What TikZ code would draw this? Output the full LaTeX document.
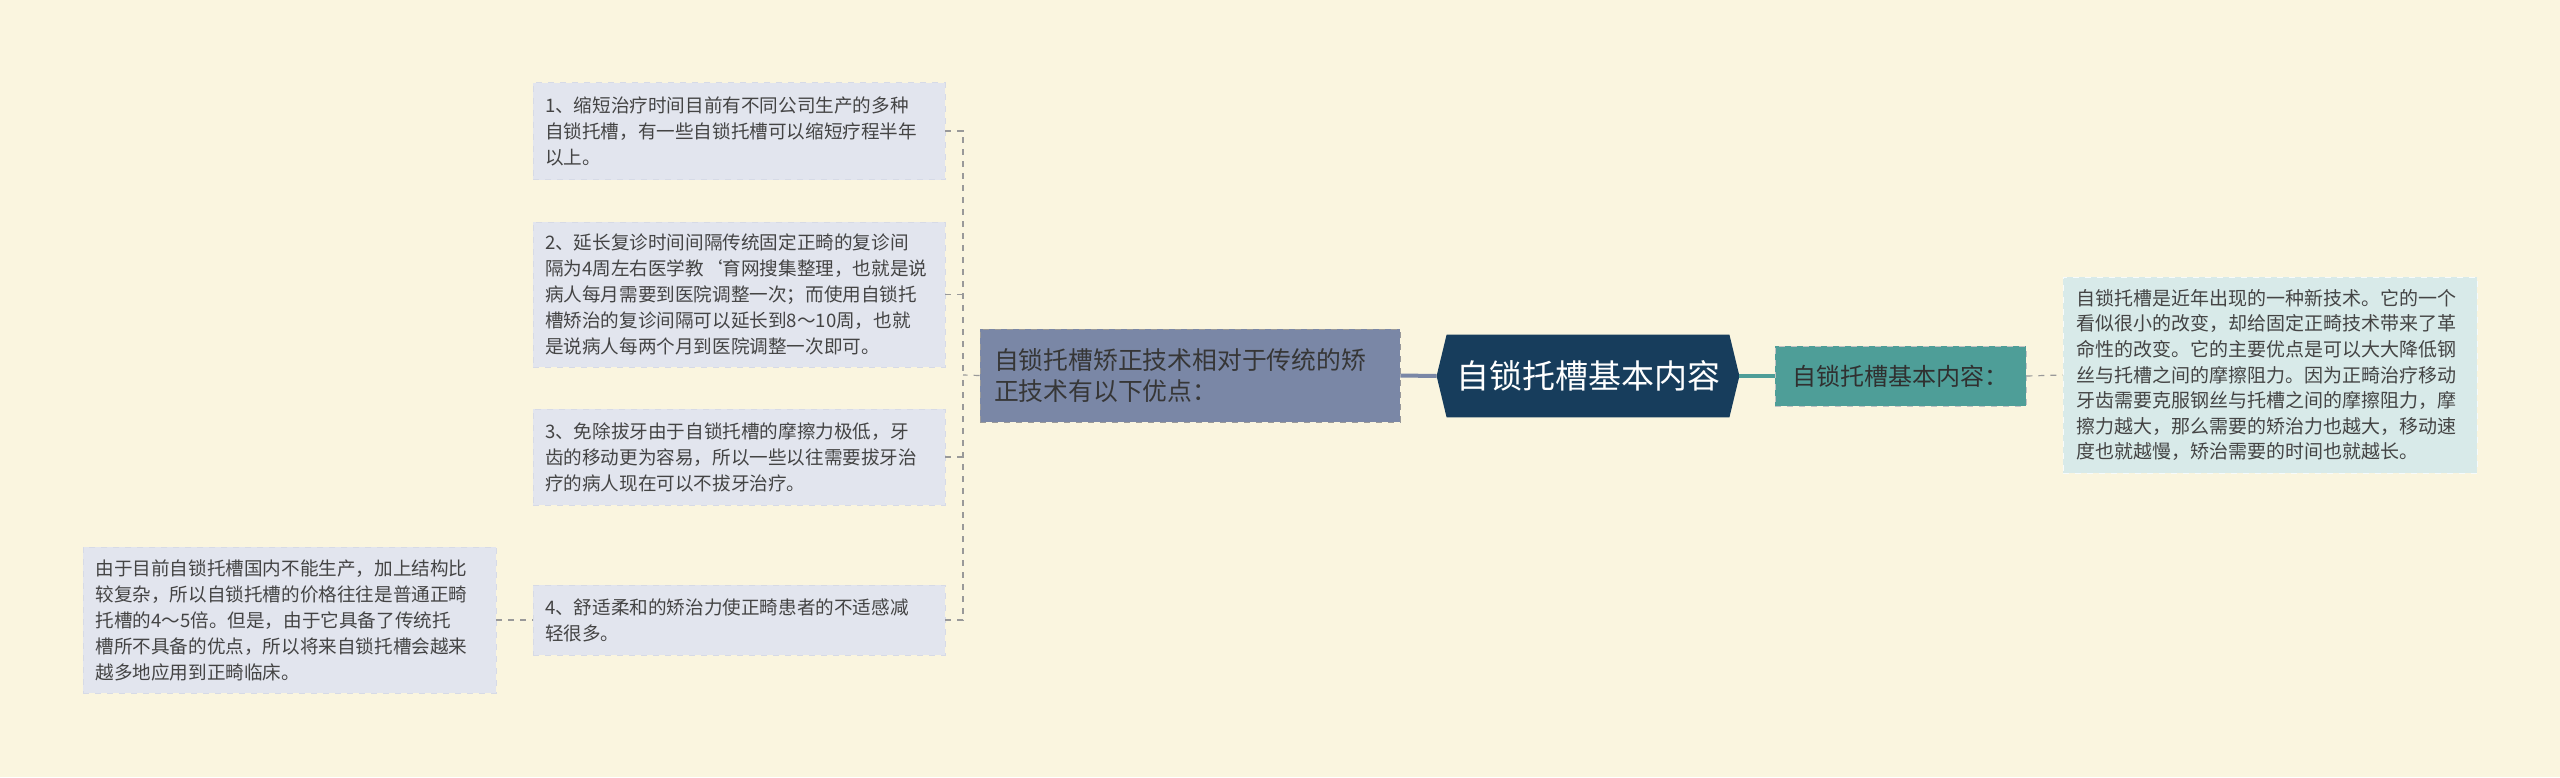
\documentclass[tikz,border=0pt]{standalone}
\usepackage{fontspec}
\setmainfont{Noto Sans CJK SC}
\begin{document}
\begin{tikzpicture}[x=0.5pt,y=-0.5pt,
  leaf/.style={fill=leafc,draw=leafb,dashed,inner sep=0pt,text=txt,align=left,font=\fontsize{9.3}{13}\selectfont},
  conn/.style={draw=linec,dashed,line width=0.6pt},
  thickc/.style={draw=#1,line width=2pt}]
\definecolor{bg}{HTML}{FAF5DF}
\definecolor{leafc}{HTML}{E2E5EE}
\definecolor{leafb}{HTML}{D6DAE6}
\definecolor{txt}{HTML}{444444}
\definecolor{linec}{HTML}{999999}
\definecolor{purp}{HTML}{7A87A6}
\definecolor{navy}{HTML}{173D5C}
\definecolor{teal}{HTML}{4E9E98}
\definecolor{rbox}{HTML}{D8EAE9}
\fill[bg] (0,0) rectangle (2560,777);
\useasboundingbox (0,0) rectangle (2560,777);
% leaves
\node[leaf,minimum width=206pt,minimum height=48.5pt,text width=194pt] (b1) at (739,131) {1、缩短治疗时间目前有不同公司生产的多种\\自锁托槽，有一些自锁托槽可以缩短疗程半年\\以上。};
\node[leaf,minimum width=206pt,minimum height=72.5pt,text width=194pt] (b2) at (739,294.5) {2、延长复诊时间间隔传统固定正畸的复诊间\\隔为4周左右医学教`育网搜集整理，也就是说\\病人每月需要到医院调整一次；而使用自锁托\\槽矫治的复诊间隔可以延长到8～10周，也就\\是说病人每两个月到医院调整一次即可。};
\node[leaf,minimum width=206pt,minimum height=48pt,text width=194pt] (b3) at (739,457) {3、免除拔牙由于自锁托槽的摩擦力极低，牙\\齿的移动更为容易，所以一些以往需要拔牙治\\疗的病人现在可以不拔牙治疗。};
\node[leaf,minimum width=206pt,minimum height=35pt,text width=194pt] (b4) at (739,620) {4、舒适柔和的矫治力使正畸患者的不适感减\\轻很多。};
\node[leaf,minimum width=206.5pt,minimum height=73pt,text width=194pt] (b5) at (289.5,620) {由于目前自锁托槽国内不能生产，加上结构比\\较复杂，所以自锁托槽的价格往往是普通正畸\\托槽的4～5倍。但是，由于它具备了传统托\\槽所不具备的优点，所以将来自锁托槽会越来\\越多地应用到正畸临床。};
% branch
\node[fill=purp,draw=linec,dashed,inner sep=0pt,minimum width=210pt,minimum height=46.5pt,text width=196pt,align=left,text=txt!80!black,font=\fontsize{12.4}{15.5}\selectfont] (br) at (1190,375.5) {自锁托槽矫正技术相对于传统的矫\\正技术有以下优点：};
% center hexagon
\node[inner sep=0pt,minimum width=141pt,minimum height=41pt] (c) at (1588,376) {};
\fill[navy] (c.north west) -- (c.north east) -- ([xshift=5pt]c.east) -- (c.south east) -- (c.south west) -- ([xshift=-5pt]c.west) -- cycle;
\node[inner sep=0pt,text=white,font=\fontsize{16.5}{20}\selectfont] (ct) at (c) {自锁托槽基本内容};
% right
\node[fill=teal,draw=linec!60,dashed,inner sep=0pt,minimum width=125.5pt,minimum height=30pt,text=txt!70!black,font=\fontsize{12}{14}\selectfont] (t) at (1900.5,376) {自锁托槽基本内容：};
\node[fill=rbox,draw=white!80!rbox,dashed,inner sep=0pt,minimum width=207pt,minimum height=98pt,text width=194pt,align=left,text=txt,font=\fontsize{9.5}{12.8}\selectfont] (r) at (2270,375) {自锁托槽是近年出现的一种新技术。它的一个\\看似很小的改变，却给固定正畸技术带来了革\\命性的改变。它的主要优点是可以大大降低钢\\丝与托槽之间的摩擦阻力。因为正畸治疗移动\\牙齿需要克服钢丝与托槽之间的摩擦阻力，摩\\擦力越大，那么需要的矫治力也越大，移动速\\度也就越慢，矫治需要的时间也就越长。};
% connectors
\draw[thickc=purp] (br.east) -- ([xshift=-5pt]c.west);
\draw[thickc=teal] ([xshift=5pt]c.east) -- (t.west);
\draw[conn] (t.east) -- (r.west);
\coordinate (j) at (963,375);
\draw[conn] (br.west) -- (j);
\draw[conn] (b1.east) -| (j);
\draw[conn] (b4.east) -| (j);
\draw[conn] (b2.east) -- (b2.east -| j);
\draw[conn] (b3.east) -- (b3.east -| j);
\draw[conn] (b5.east) -- (b4.west);
\end{tikzpicture}
\end{document}
